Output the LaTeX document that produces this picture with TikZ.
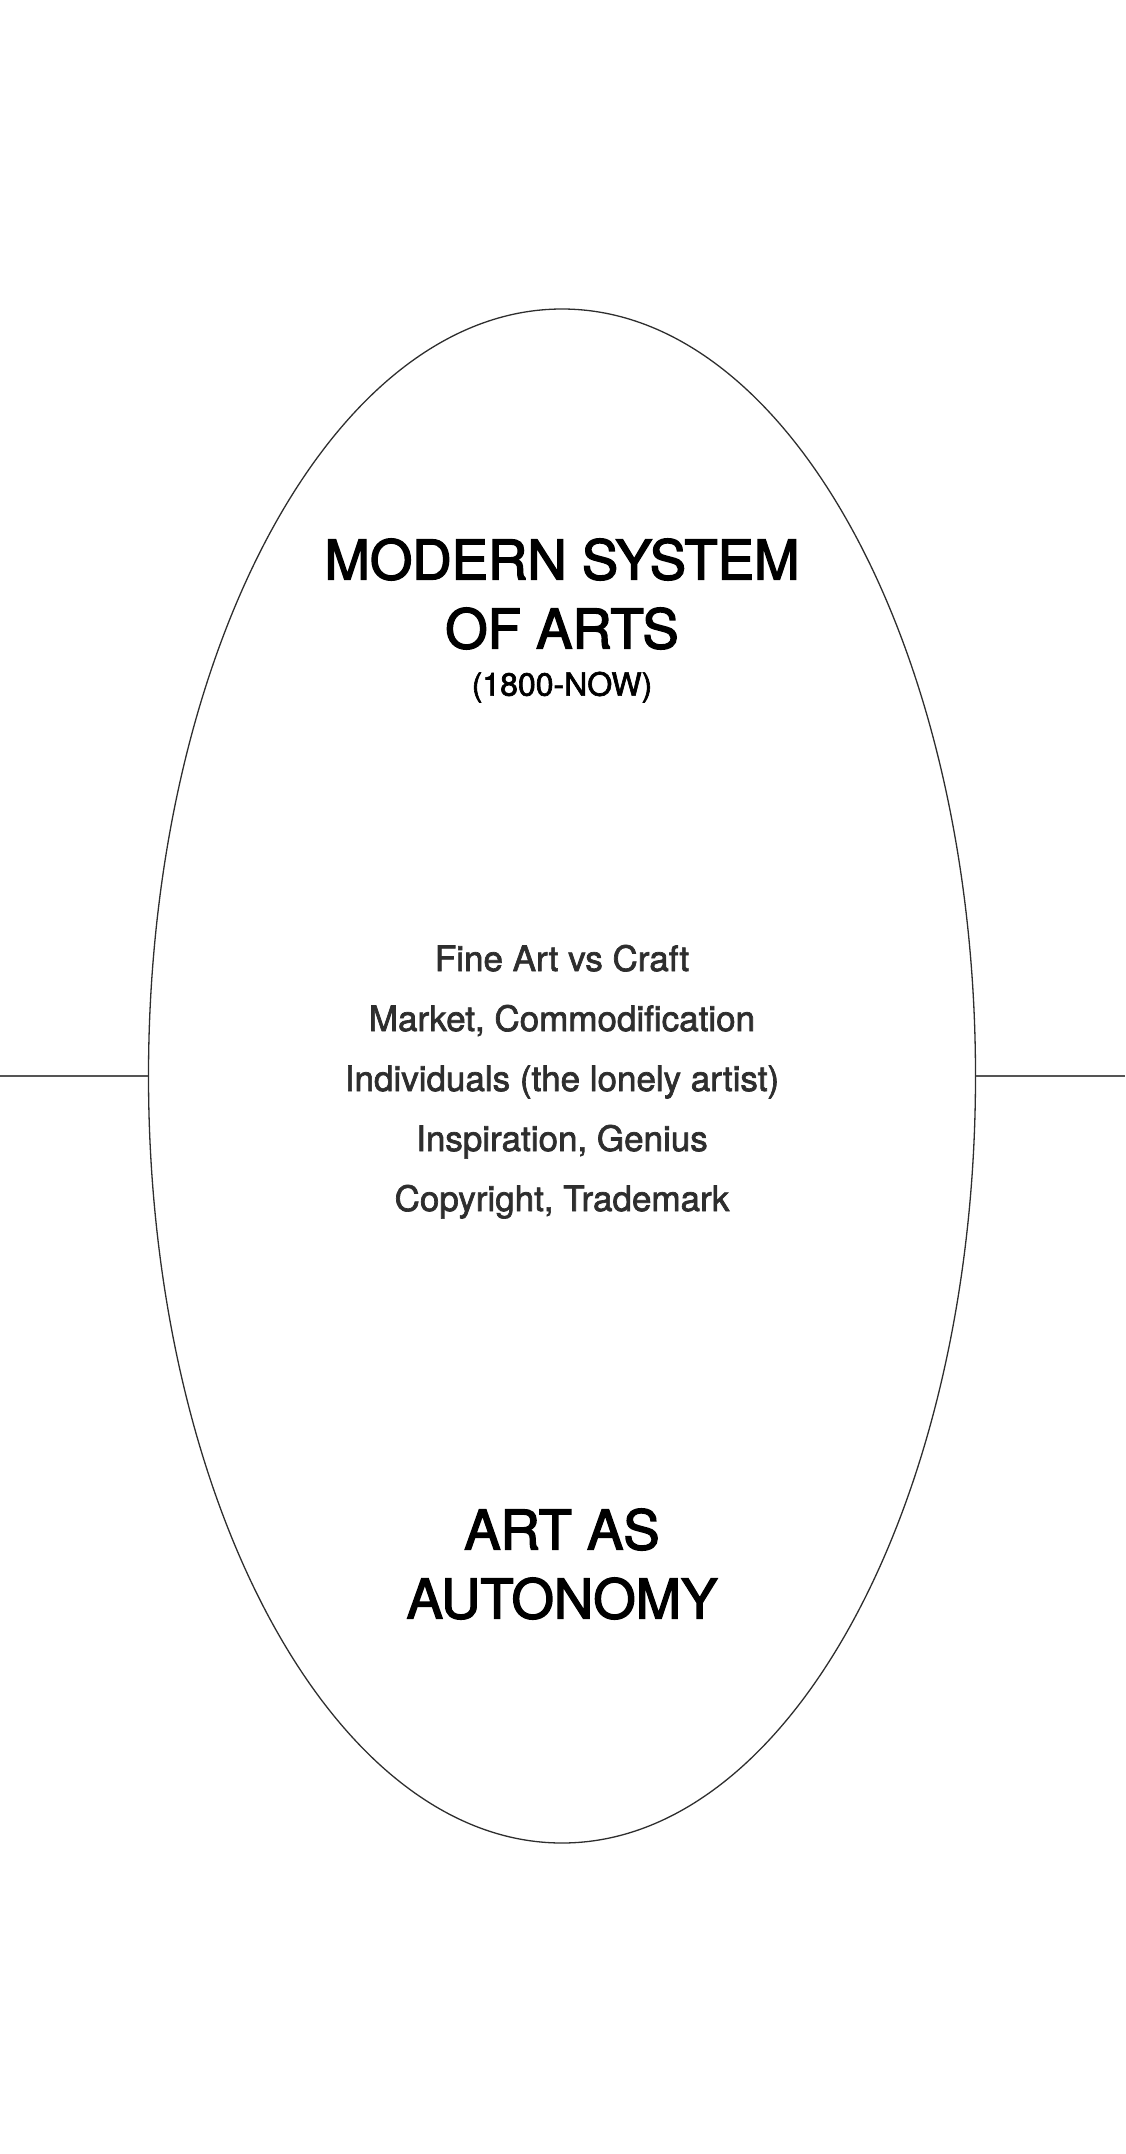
\documentclass[tikz,border=0pt]{standalone}
\usepackage{fontspec}
\setmainfont{TeX Gyre Heros}[RawFeature={embolden=2}]
\newfontfamily\headfont{TeX Gyre Heros}[RawFeature={embolden=2.6}]
\usetikzlibrary{shapes.geometric,positioning}
\definecolor{inkgray}{HTML}{2E2E2E}
\definecolor{rulegray}{HTML}{555555}

\begin{document}
\begin{tikzpicture}[x=1pt, y=-1pt,
  heading/.style={font=\headfont\fontsize{54.5}{69}\selectfont, align=center, text=black, inner sep=0pt},
  period/.style={font=\fontsize{32}{36}\selectfont, text=black, inner sep=0pt},
  trait/.style={font=\fontsize{35}{40}\selectfont, text=inkgray, inner sep=0pt, anchor=base},
  rim/.style={ellipse, draw=inkgray, line width=1.3pt, inner sep=0pt},
  axis/.style={draw=rulegray, line width=1.1pt}
]
\useasboundingbox (0,0) rectangle (1125,2154);

% Oval and horizon
\node[rim, minimum width=827pt, minimum height=1534pt] (oval) at (562,1076) {};
\coordinate (lend) at (0,1076);
\coordinate (rend) at (1125,1076);
\draw[axis] (lend) -- (oval.west);
\draw[axis] (oval.east) -- (rend);

% Headings
\node[heading] (top) at (562,594) {MODERN SYSTEM\\OF ARTS};
\node[period, below=22pt of top] (years) {(1800-NOW)};
\node[heading] (bottom) at (562,1564) {ART AS\\AUTONOMY};

% Traits
\foreach \t [count=\i] in {Fine Art vs Craft, {Market, Commodification},
    Individuals (the lonely artist), {Inspiration, Genius}, {Copyright, Trademark}}
  \node[trait] (trait\i) at (562,911+60*\i) {\t};
\end{tikzpicture}
\end{document}
